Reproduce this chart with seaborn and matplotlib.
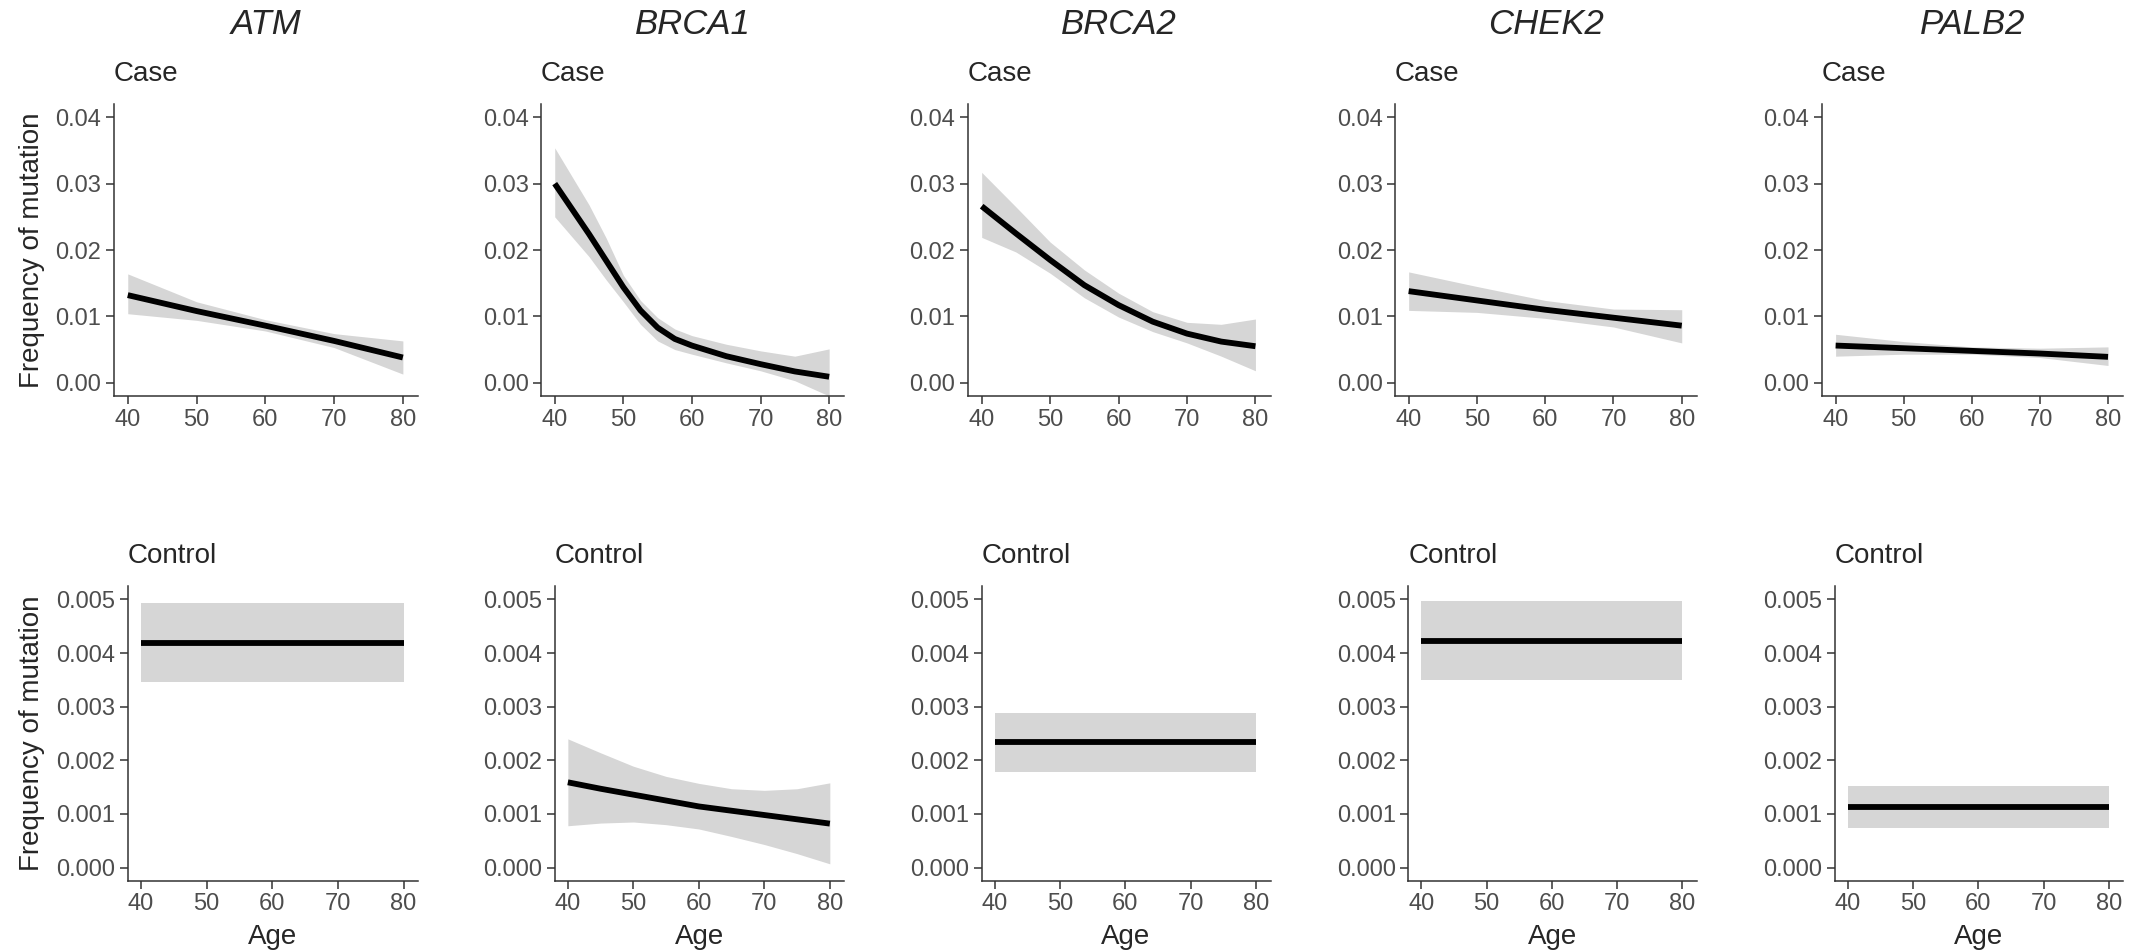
import numpy as np
import pandas as pd
import matplotlib
matplotlib.use("Agg")
import matplotlib.pyplot as plt
from matplotlib.ticker import FormatStrFormatter
import seaborn as sns

# --- data (smoothed fit + confidence band) ---
genes = ["ATM", "BRCA1", "BRCA2", "CHEK2", "PALB2"]

# Case row
atm_case_age = [40, 50, 60, 70, 80]
atm_case_fit = [0.0132, 0.0108, 0.0086, 0.0063, 0.0038]
atm_case_lo = [0.0104, 0.0094, 0.0078, 0.0053, 0.0013]
atm_case_hi = [0.0164, 0.0122, 0.0095, 0.0074, 0.0063]

brca1_case_age = [40, 45, 47.5, 50, 52.5, 55, 57.5, 60, 65, 70, 75, 80]
brca1_case_fit = [0.0300, 0.0224, 0.0184, 0.0144, 0.0109, 0.0083, 0.0066, 0.0056, 0.0040, 0.0028, 0.0017, 0.0009]
brca1_case_lo = [0.0250, 0.0190, 0.0155, 0.0122, 0.0088, 0.0063, 0.0050, 0.0043, 0.0030, 0.0018, 0.0003, -0.0020]
brca1_case_hi = [0.0354, 0.0268, 0.0218, 0.0162, 0.0124, 0.0098, 0.0081, 0.0071, 0.0058, 0.0048, 0.0040, 0.0051]

brca2_case_age = [40, 45, 50, 55, 60, 65, 70, 75, 80]
brca2_case_fit = [0.0266, 0.0225, 0.0185, 0.0147, 0.0117, 0.0092, 0.0074, 0.0062, 0.0055]
brca2_case_lo = [0.0219, 0.0197, 0.0165, 0.0128, 0.0099, 0.0077, 0.0060, 0.0040, 0.0018]
brca2_case_hi = [0.0317, 0.0265, 0.0212, 0.0170, 0.0135, 0.0107, 0.0091, 0.0088, 0.0096]

chek2_case_age = [40, 50, 60, 70, 80]
chek2_case_fit = [0.0138, 0.0124, 0.0110, 0.0098, 0.0086]
chek2_case_lo = [0.0109, 0.0106, 0.0097, 0.0084, 0.0060]
chek2_case_hi = [0.0167, 0.0145, 0.0124, 0.0111, 0.0110]

palb2_case_age = [40, 50, 60, 70, 80]
palb2_case_fit = [0.0056, 0.0052, 0.0048, 0.0044, 0.0039]
palb2_case_lo = [0.0040, 0.0043, 0.0043, 0.0038, 0.0026]
palb2_case_hi = [0.0073, 0.0062, 0.0054, 0.0052, 0.0054]

# Control row
atm_ctrl_age = [40, 80]
atm_ctrl_fit = [0.00419, 0.00419]
atm_ctrl_lo = [0.00346, 0.00346]
atm_ctrl_hi = [0.00493, 0.00493]

brca1_ctrl_age = [40, 45, 50, 55, 60, 65, 70, 75, 80]
brca1_ctrl_fit = [0.00159, 0.00147, 0.00136, 0.00125, 0.00114, 0.00106, 0.00098, 0.00090, 0.00082]
brca1_ctrl_lo = [0.00078, 0.00083, 0.00085, 0.00080, 0.00072, 0.00058, 0.00043, 0.00026, 0.00007]
brca1_ctrl_hi = [0.00240, 0.00214, 0.00189, 0.00170, 0.00157, 0.00147, 0.00144, 0.00147, 0.00158]

brca2_ctrl_age = [40, 80]
brca2_ctrl_fit = [0.00234, 0.00234]
brca2_ctrl_lo = [0.00178, 0.00178]
brca2_ctrl_hi = [0.00288, 0.00288]

chek2_ctrl_age = [40, 80]
chek2_ctrl_fit = [0.00423, 0.00423]
chek2_ctrl_lo = [0.00349, 0.00349]
chek2_ctrl_hi = [0.00497, 0.00497]

palb2_ctrl_age = [40, 80]
palb2_ctrl_fit = [0.00113, 0.00113]
palb2_ctrl_lo = [0.00073, 0.00073]
palb2_ctrl_hi = [0.00153, 0.00153]

case_panels = [
    (atm_case_age, atm_case_fit, atm_case_lo, atm_case_hi),
    (brca1_case_age, brca1_case_fit, brca1_case_lo, brca1_case_hi),
    (brca2_case_age, brca2_case_fit, brca2_case_lo, brca2_case_hi),
    (chek2_case_age, chek2_case_fit, chek2_case_lo, chek2_case_hi),
    (palb2_case_age, palb2_case_fit, palb2_case_lo, palb2_case_hi),
]
ctrl_panels = [
    (atm_ctrl_age, atm_ctrl_fit, atm_ctrl_lo, atm_ctrl_hi),
    (brca1_ctrl_age, brca1_ctrl_fit, brca1_ctrl_lo, brca1_ctrl_hi),
    (brca2_ctrl_age, brca2_ctrl_fit, brca2_ctrl_lo, brca2_ctrl_hi),
    (chek2_ctrl_age, chek2_ctrl_fit, chek2_ctrl_lo, chek2_ctrl_hi),
    (palb2_ctrl_age, palb2_ctrl_fit, palb2_ctrl_lo, palb2_ctrl_hi),
]

case_yticks = [0, 0.01, 0.02, 0.03, 0.04]
ctrl_yticks = [0, 0.001, 0.002, 0.003, 0.004, 0.005]
age_ticks = [40, 50, 60, 70, 80]

# --- style ---
sns.set_theme(style="ticks")
plt.rcParams["font.family"] = ["Liberation Sans", "DejaVu Sans"]
plt.rcParams["axes.linewidth"] = 1.1
plt.rcParams["axes.edgecolor"] = "#333333"

W, H = 2146, 952
fig = plt.figure(figsize=(W / 100, H / 100), dpi=100)


def px_axes(l, t, r, b):
    return fig.add_axes([l / W, 1 - b / H, (r - l) / W, (b - t) / H])


def ftext(x, y, s, **kw):
    fig.text(x / W, 1 - y / H, s, **kw)


def draw_panel(ax, age, fit, lo, hi, yticks, fmt):
    ax.fill_between(age, lo, hi, color="#d6d6d6", lw=0, zorder=1)
    df = pd.DataFrame({"age": age, "freq": fit})
    sns.lineplot(data=df, x="age", y="freq", ax=ax, color="black", lw=4.2,
                 errorbar=None, solid_capstyle="butt", solid_joinstyle="round", zorder=2)
    ax.set_xlim(38, 82.2)
    span = yticks[-1] - yticks[0]
    ax.set_ylim(-0.05 * span, yticks[-1] + 0.05 * span)
    ax.set_xticks(age_ticks)
    ax.set_yticks(yticks)
    ax.yaxis.set_major_formatter(FormatStrFormatter(fmt))
    ax.set_xlabel("")
    ax.set_ylabel("")
    ax.tick_params(labelsize=17, colors="#333333", labelcolor="#4d4d4d",
                   length=6, width=1.1, pad=3)
    sns.despine(ax=ax)


for i, gene in enumerate(genes):
    # case row
    l, r = 114 + 427 * i, 418 + 426.25 * i
    ax = px_axes(l, 104, r, 396)
    draw_panel(ax, *case_panels[i], case_yticks, "%.2f")
    ftext(l, 74, "Case", fontsize=20, va="center", ha="left")
    ftext((l + r) / 2, 25, gene, fontsize=25, style="italic", va="center", ha="center")

    # control row
    l2 = 128 + 426.75 * i
    ax2 = px_axes(l2, 586, r, 881)
    draw_panel(ax2, *ctrl_panels[i], ctrl_yticks, "%.3f")
    ftext(l2, 556, "Control", fontsize=20, va="center", ha="left")
    ftext((l2 + r) / 2, 937, "Age", fontsize=20, va="center", ha="center")

ftext(32, 250, "Frequency of mutation", fontsize=20, rotation=90, va="center", ha="center")
ftext(32, 733, "Frequency of mutation", fontsize=20, rotation=90, va="center", ha="center")

fig.savefig("out.png", dpi=100, facecolor="white")
